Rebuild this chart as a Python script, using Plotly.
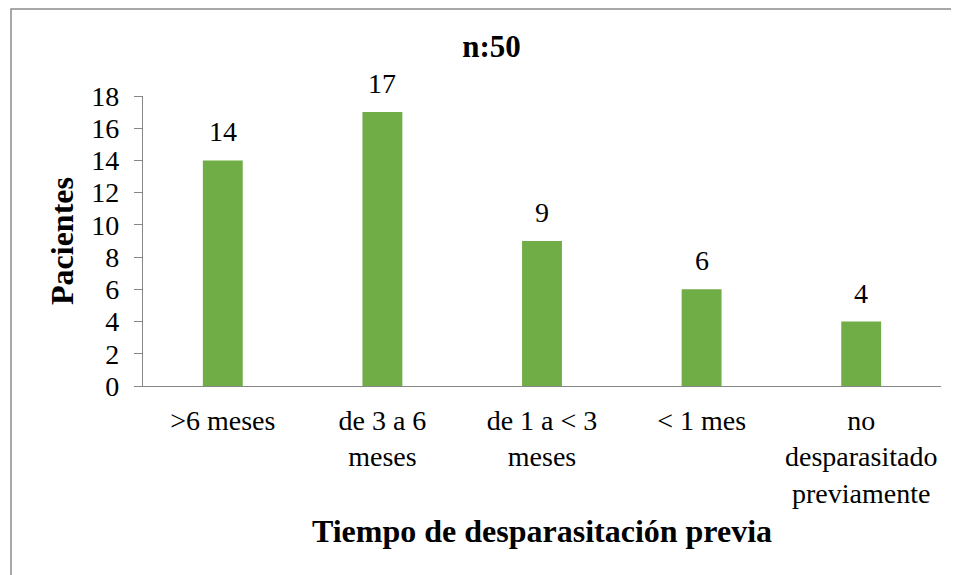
import plotly.graph_objects as go

categories = [">6 meses", "de 3 a 6<br>meses", "de 1 a < 3<br>meses", "< 1 mes",
              "no<br>desparasitado<br>previamente"]
pacientes = [14, 17, 9, 6, 4]
y_ticks = [0, 2, 4, 6, 8, 10, 12, 14, 16, 18]
title_text = "n:50"
x_title = "Tiempo de desparasitación previa"
y_title = "Pacientes"

FONT = "Liberation Serif, Times New Roman, Times, serif"
W, H = 959, 575
OFF = 8  # page body margin
L, R, T, B = 143 - OFF, 26, 96 - OFF, 197
pw, ph = W - L - R, H - T - B

fig = go.Figure()
fig.add_trace(go.Bar(
    x=categories, y=pacientes, marker=dict(color="#70AD47", line=dict(width=0)),
    width=0.25, hoverinfo="x+y"))

for c, v in zip(categories, pacientes):
    fig.add_annotation(x=c, y=v, text=str(v), showarrow=False, yanchor="bottom",
                       yshift=11, font=dict(family=FONT, size=28, color="black"))

# chart-area border (cropped at right/bottom)
fig.add_shape(type="rect", xref="paper", yref="paper",
              x0=(11 - 143) / pw, x1=(1000 - 143) / pw,
              y0=-2, y1=(386 - 9) / ph,
              line=dict(color="#8c8c8c", width=1.5), fillcolor="rgba(0,0,0,0)", layer="above")

fig.update_layout(
    width=W, height=H,
    margin=dict(l=L, r=R, t=T, b=B, pad=0),
    paper_bgcolor="white", plot_bgcolor="white",
    showlegend=False,
    font=dict(family=FONT, size=28, color="black"),
    title=dict(text="<b>" + title_text + "</b>", xref="container", yref="container",
               x=(491.5 - OFF) / W, xanchor="center", y=1 - (46 - OFF) / H, yanchor="middle",
               font=dict(family=FONT, size=31, color="black")),
    bargap=0.75,
)
fig.update_xaxes(showline=True, linecolor="#868686", linewidth=1.3, ticks="",
                 showgrid=False, zeroline=False, ticklabelstandoff=9,
                 tickfont=dict(family=FONT, size=28, color="black"),
                 title=dict(text="<b>" + x_title + "</b>", standoff=12,
                            font=dict(family=FONT, size=32, color="black")))
fig.update_yaxes(range=[0, 18], tickvals=y_ticks, showline=True, linecolor="#868686",
                 linewidth=1.3, ticks="outside", ticklen=8, tickcolor="#868686",
                 showgrid=False, zeroline=False, ticklabelstandoff=9,
                 tickfont=dict(family=FONT, size=28, color="black"),
                 title=dict(text="<b>" + y_title + "</b>", standoff=8,
                            font=dict(family=FONT, size=32, color="black")))

fig.write_html("out.html")
